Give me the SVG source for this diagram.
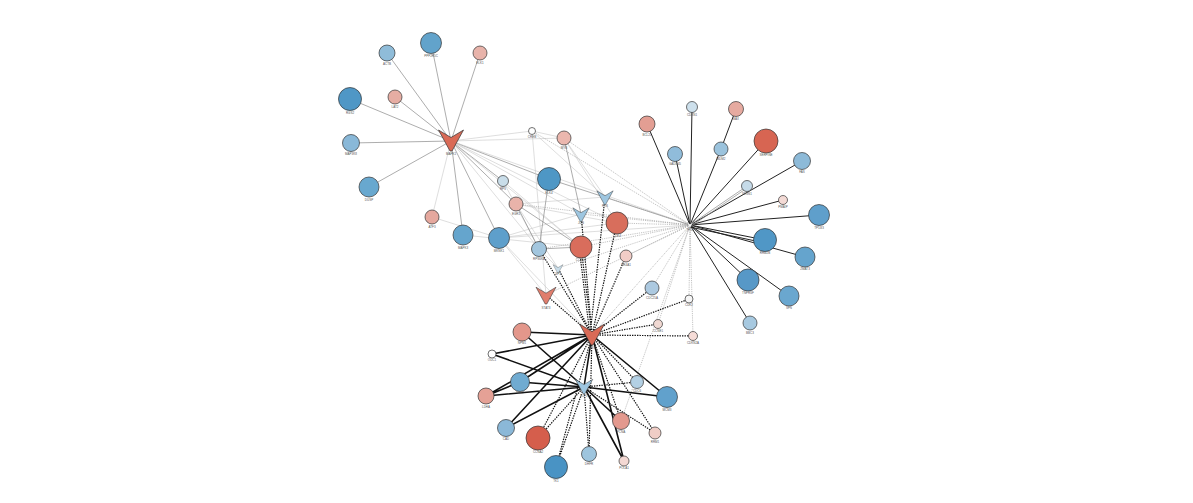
<svg xmlns="http://www.w3.org/2000/svg" xmlns:xlink="http://www.w3.org/1999/xlink" width="1193" height="503" viewBox="0 0 1193 503">
<!-- NOTE: node labels in the reference were illegible at source resolution; the gene names below are placeholders chosen to approximate label length/appearance, not transcriptions. -->
<style>
.n{stroke:#333;stroke-width:0.7}
.t{font-family:"Liberation Sans",Arial,sans-serif;font-size:3px;fill:#555;text-anchor:middle}
.g{stroke:#8a8a8a;stroke-width:0.7;fill:none}
.gl{stroke:#c8c8c8;stroke-width:0.6;fill:none}
.dl{stroke:#9a9a9a;stroke-width:0.6;stroke-dasharray:1.2 1;fill:none}
.s{stroke:#222;stroke-width:1;fill:none}
.sb{stroke:#111;stroke-width:1.6;fill:none}
.d{stroke:#111;stroke-width:1.2;stroke-dasharray:1.4 1.1;fill:none}
</style>
<defs>
<path id="v" d="M-12.5,-11 L0,-3.5 L12.5,-11 L1,10 L-1,10 Z"/>
</defs>
<rect width="1193" height="503" fill="#fff"/>
<g id="edges">
<path class="g" d="M451,141L387,53M451,141L431,43M451,141L480,53M451,141L350,99M451,141L395,97M451,141L351,143M451,141L369,187M451,141L463,235M451,141L499,238M451,141L549,179M451,141L503,181M451,141L516,204"/>
<path class="gl" d="M451,141L432,217M451,141L532,131M451,141L564,138M451,141L539,249M451,141L581,247M451,141L617,223M451,141L690,225M451,141L581,214M432,217L499,238M463,235L581,247M499,238L581,214M499,238L617,223M499,238L690,225M499,238L592,335M503,181L539,249M503,181L581,247M516,204L617,223M516,204L605,197M532,131L605,197M532,131L564,138M564,138L605,197M564,138L617,223M539,249L558,268M532,131L546,295M516,204L558,268M499,238L546,295"/>
<path class="g" d="M564,138L581,214M549,179L539,249M516,204L539,249M539,249L581,247M516,204L581,247M549,179L690,225"/>
<path class="dl" d="M690,225L564,138M690,225L532,131M690,225L516,204M690,225L581,214M690,225L605,197M690,225L617,223M690,225L581,247M690,225L539,249M690,225L626,256M690,225L558,268M690,225L546,295M690,225L652,288M690,225L689,299M690,225L658,324M690,225L693,336M690,225L592,335M690,225L621,421"/>
<path class="s" d="M690,225L647,124M690,225L692,107M690,225L675,154M690,225L721,149M721,149L736,109M690,225L766,141M690,225L802,161M690,225L783,200M690,225L819,215M690,225L765,240M690,227L765,243M690,225L805,257M690,225L748,280M690,225L789,296M690,225L750,323"/>
<path class="g" d="M690,225L747,186M690,227L747,188"/>
<path class="d" d="M592,335L581,247M590,335L579,247M592,335L617,223M590,335L605,197M592,335L581,214M592,335L546,295M592,335L539,249M592,335L558,268M592,335L626,256M592,335L652,288M592,335L689,299M592,335L658,324M592,335L693,336M592,335L637,382M592,335L655,433M592,335L589,454M592,335L556,467M592,335L538,438M592,335L621,421M584,387L637,382M584,387L655,433M584,387L589,454M584,387L556,467M584,387L538,438"/>
<path class="sb" d="M592,335L522,332M592,335L492,354M592,335L520,382M592,335L486,396M592,335L506,428M592,335L667,397M592,335L624,461M592,335L584,387M584,387L522,332M584,387L492,354M584,387L520,382M584,387L486,396M584,387L506,428M584,387L667,397M584,387L621,421M584,387L624,461M520,382L486,396"/>
</g>
<g id="nodes">
<g id="h1"><use xlink:href="#v" href="#v" transform="translate(451,141)" fill="#d96a56" class="n"/><text class="t" x="451" y="155">MAPK1</text></g>
<g id="h2"><use xlink:href="#v" href="#v" transform="translate(690,225) scale(0.25)" fill="#fff" class="n"/><text class="t" x="690" y="231">TP53</text></g>
<g id="h3"><use xlink:href="#v" href="#v" transform="translate(592,335)" fill="#d96a56" class="n"/><text class="t" x="592" y="349">MYC</text></g>
<g id="h4"><use xlink:href="#v" href="#v" transform="translate(584,387) scale(0.7)" fill="#9ec6e0" class="n"/><text class="t" x="584" y="397">E2F1</text></g>
<g id="h5"><use xlink:href="#v" href="#v" transform="translate(581,215) scale(0.65)" fill="#9ec6e0" class="n"/><text class="t" x="581" y="224">JUN</text></g>
<g id="h6"><use xlink:href="#v" href="#v" transform="translate(605,198) scale(0.65)" fill="#9ec6e0" class="n"/><text class="t" x="605" y="207">FOS</text></g>
<g id="h7"><use xlink:href="#v" href="#v" transform="translate(558,269) scale(0.4)" fill="#c9dde9" class="n"/><text class="t" x="558" y="275">SP1</text></g>
<g id="h8"><use xlink:href="#v" href="#v" transform="translate(546,296) scale(0.8)" fill="#e07e6d" class="n"/><text class="t" x="546" y="309">STAT3</text></g>

<g id="n1"><circle class="n" cx="387" cy="53" r="8" fill="#8fbcd9"/><text class="t" x="387" y="65">ACTB</text></g>
<g id="n2"><circle class="n" cx="431" cy="43" r="10.5" fill="#62a3cb"/><text class="t" x="431" y="57">PPP2R5C</text></g>
<g id="n3"><circle class="n" cx="480" cy="53" r="7" fill="#e8b3aa"/><text class="t" x="480" y="64">ELK1</text></g>
<g id="n4"><circle class="n" cx="350" cy="99" r="11.5" fill="#4f97c6"/><text class="t" x="350" y="114">RGS2</text></g>
<g id="n5"><circle class="n" cx="395" cy="97" r="7" fill="#e6ada3"/><text class="t" x="395" y="108">LAT2</text></g>
<g id="n6"><circle class="n" cx="351" cy="143" r="8.5" fill="#89b8d8"/><text class="t" x="351" y="155">MAP3K8</text></g>
<g id="n7"><circle class="n" cx="369" cy="187" r="10" fill="#68a8cf"/><text class="t" x="369" y="201">DUSP</text></g>
<g id="n8"><circle class="n" cx="432" cy="217" r="7" fill="#e5a89e"/><text class="t" x="432" y="228">ATF3</text></g>
<g id="n9"><circle class="n" cx="463" cy="235" r="10" fill="#65a5cd"/><text class="t" x="463" y="249">MAPK3</text></g>
<g id="n10"><circle class="n" cx="499" cy="238" r="10.5" fill="#5e9fcb"/><text class="t" x="499" y="252">MKNK1</text></g>
<g id="n11"><circle class="n" cx="503" cy="181" r="5.5" fill="#c9dde9"/><text class="t" x="503" y="190">RPS</text></g>
<g id="n12"><circle class="n" cx="516" cy="204" r="7" fill="#e9b3aa"/><text class="t" x="516" y="215">EGR1</text></g>
<g id="n13"><circle class="n" cx="532" cy="131" r="3.5" fill="#fff"/><text class="t" x="532" y="138">CREB</text></g>
<g id="n14"><circle class="n" cx="564" cy="138" r="7" fill="#ebb7ae"/><text class="t" x="564" y="149">MYB</text></g>
<g id="n15"><circle class="n" cx="549" cy="179" r="11.5" fill="#4e97c5"/><text class="t" x="549" y="194">ELK4</text></g>
<g id="n16"><circle class="n" cx="539" cy="249" r="7.5" fill="#a3c6de"/><text class="t" x="539" y="260">RPS6KA</text></g>
<g id="n17"><circle class="n" cx="581" cy="247" r="11" fill="#d96d5c"/><text class="t" x="581" y="261">CCND1</text></g>
<g id="n18"><circle class="n" cx="617" cy="223" r="11" fill="#d86e5c"/><text class="t" x="617" y="237">CDK4</text></g>
<g id="n19"><circle class="n" cx="626" cy="256" r="6" fill="#f1cdc7"/><text class="t" x="626" y="266">NR4A1</text></g>

<g id="n20"><circle class="n" cx="647" cy="124" r="8" fill="#e39e93"/><text class="t" x="647" y="136">BCL2L</text></g>
<g id="n21"><circle class="n" cx="692" cy="107" r="5.5" fill="#cde0ec"/><text class="t" x="692" y="116">CDKN1</text></g>
<g id="n22"><circle class="n" cx="736" cy="109" r="7.5" fill="#e6aaa0"/><text class="t" x="736" y="120">BAX</text></g>
<g id="n23"><circle class="n" cx="675" cy="154" r="7.5" fill="#90bcda"/><text class="t" x="675" y="165">GADD45</text></g>
<g id="n24"><circle class="n" cx="721" cy="149" r="7" fill="#9bc3dd"/><text class="t" x="721" y="160">MDM2</text></g>
<g id="n25"><circle class="n" cx="766" cy="141" r="12" fill="#d76552"/><text class="t" x="766" y="156">SERPINE</text></g>
<g id="n26"><circle class="n" cx="802" cy="161" r="8.5" fill="#8dbad8"/><text class="t" x="802" y="173">FAS</text></g>
<g id="n27"><circle class="n" cx="747" cy="186" r="5.5" fill="#c6dbe9"/><text class="t" x="747" y="195">SESN1</text></g>
<g id="n28"><circle class="n" cx="783" cy="200" r="4.5" fill="#f3dad5"/><text class="t" x="783" y="208">PMAIP</text></g>
<g id="n29"><circle class="n" cx="819" cy="215" r="10.5" fill="#5f9fcb"/><text class="t" x="819" y="229">TP53I3</text></g>
<g id="n30"><circle class="n" cx="765" cy="240" r="11.5" fill="#5097c6"/><text class="t" x="765" y="254">RRM2B</text></g>
<g id="n31"><circle class="n" cx="805" cy="257" r="10" fill="#65a4cd"/><text class="t" x="805" y="270">ZMAT3</text></g>
<g id="n32"><circle class="n" cx="748" cy="280" r="11" fill="#5798c7"/><text class="t" x="748" y="294">TNFRSF</text></g>
<g id="n33"><circle class="n" cx="789" cy="296" r="10" fill="#6aa7cf"/><text class="t" x="789" y="309">SFN</text></g>
<g id="n34"><circle class="n" cx="750" cy="323" r="7" fill="#a7c9e0"/><text class="t" x="750" y="334">BBC3</text></g>
<g id="n35"><circle class="n" cx="652" cy="288" r="7" fill="#acc9e0"/><text class="t" x="652" y="299">CDC25A</text></g>
<g id="n36"><circle class="n" cx="689" cy="299" r="4" fill="#f6f6f6"/><text class="t" x="689" y="306">CDK2</text></g>
<g id="n37"><circle class="n" cx="658" cy="324" r="4.5" fill="#f0d8d2"/><text class="t" x="658" y="332">CCNE1</text></g>
<g id="n38"><circle class="n" cx="693" cy="336" r="4.5" fill="#f6dcd7"/><text class="t" x="693" y="344">CDKN2A</text></g>

<g id="n39"><circle class="n" cx="522" cy="332" r="9" fill="#e3978b"/><text class="t" x="522" y="344">NPM1</text></g>
<g id="n40"><circle class="n" cx="492" cy="354" r="4" fill="#fff"/><text class="t" x="492" y="361">ODC1</text></g>
<g id="n41"><circle class="n" cx="520" cy="382" r="9.5" fill="#70abd1"/><text class="t" x="520" y="394">TERT</text></g>
<g id="n42"><circle class="n" cx="486" cy="396" r="8" fill="#e5a196"/><text class="t" x="486" y="408">LDHA</text></g>
<g id="n43"><circle class="n" cx="637" cy="382" r="6.5" fill="#b3d0e4"/><text class="t" x="637" y="392">CDC6</text></g>
<g id="n44"><circle class="n" cx="667" cy="397" r="10.5" fill="#61a1cc"/><text class="t" x="667" y="411">MCM3</text></g>
<g id="n45"><circle class="n" cx="621" cy="421" r="8.5" fill="#e3998e"/><text class="t" x="621" y="433">PCNA</text></g>
<g id="n46"><circle class="n" cx="655" cy="433" r="6" fill="#f0cdc6"/><text class="t" x="655" y="443">RRM1</text></g>
<g id="n47"><circle class="n" cx="506" cy="428" r="8.5" fill="#8bb8d8"/><text class="t" x="506" y="440">CAD</text></g>
<g id="n48"><circle class="n" cx="538" cy="438" r="12" fill="#d55e4c"/><text class="t" x="538" y="453">CCNA2</text></g>
<g id="n49"><circle class="n" cx="556" cy="467" r="11.5" fill="#4993c4"/><text class="t" x="556" y="482">TK1</text></g>
<g id="n50"><circle class="n" cx="589" cy="454" r="7.5" fill="#9ec5de"/><text class="t" x="589" y="465">DHFR</text></g>
<g id="n51"><circle class="n" cx="624" cy="461" r="5" fill="#f3d8d3"/><text class="t" x="624" y="469">POLA1</text></g>
</g>
</svg>
